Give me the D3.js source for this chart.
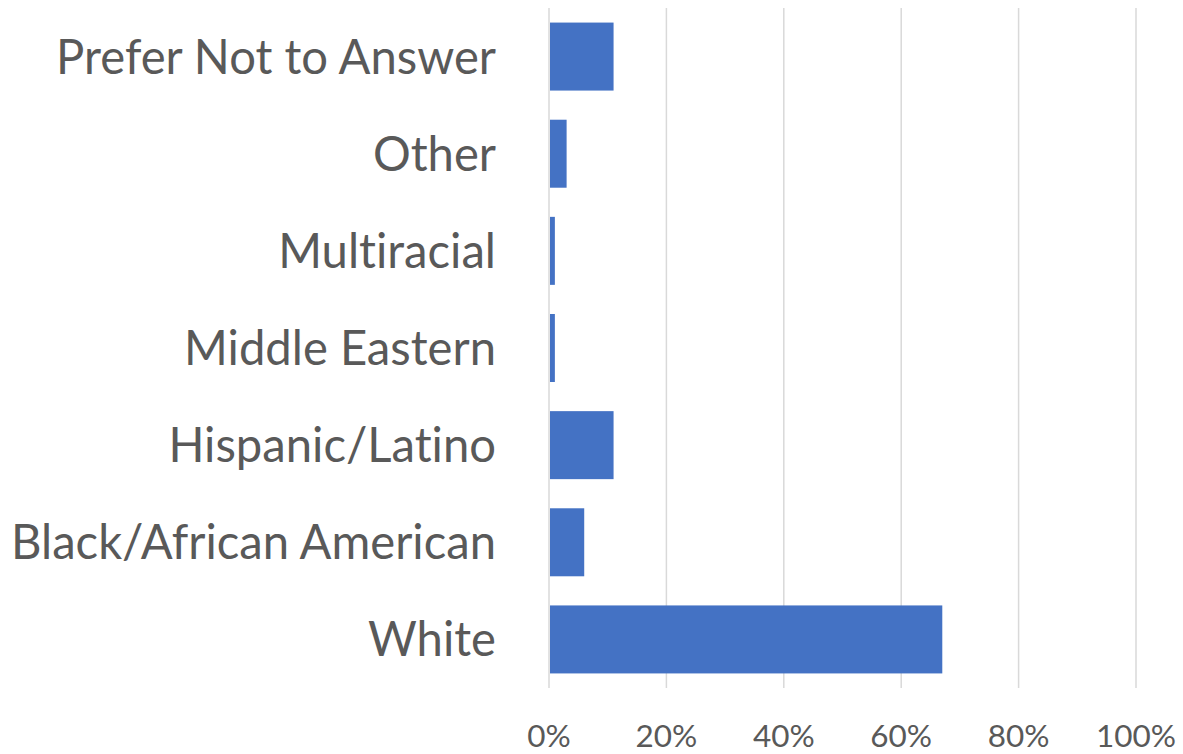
<!DOCTYPE html>
<html>
<head>
<meta charset="utf-8">
<script src="https://cdn.jsdelivr.net/npm/d3@7"></script>
<style>
  html, body { margin: 0; padding: 0; background: #fff; }
  svg { display: block; }
  text { font-family: Lato, "Open Sans", sans-serif; fill: #595959; font-variant-ligatures: none; font-feature-settings: "liga" 0, "clig" 0; }
</style>
</head>
<body>
<svg id="chart" width="1183" height="754"></svg>
<script>
// Respondents by race / ethnicity (share of total)
const categories = [
  "Prefer Not to Answer",
  "Other",
  "Multiracial",
  "Middle Eastern",
  "Hispanic/Latino",
  "Black/African American",
  "White"
];
const values = [0.11, 0.03, 0.01, 0.01, 0.11, 0.06, 0.67];
const tickValues = [0, 0.2, 0.4, 0.6, 0.8, 1.0];

const svg = d3.select("#chart");
const plot = { left: 549, right: 1136, top: 8, bottom: 688 };

const x = d3.scaleLinear().domain([0, 1]).range([plot.left, plot.right]);
const y = d3.scaleBand()
  .domain(categories)
  .range([plot.top, plot.bottom])
  .paddingInner(0.3)
  .paddingOuter(0.15);

// vertical gridlines
svg.append("g")
  .selectAll("line")
  .data(tickValues)
  .join("line")
  .attr("x1", d => x(d)).attr("x2", d => x(d))
  .attr("y1", plot.top).attr("y2", plot.bottom)
  .attr("stroke", "#d9d9d9")
  .attr("stroke-width", 1.5);

// bars
svg.append("g")
  .selectAll("rect")
  .data(categories)
  .join("rect")
  .attr("x", x(0) + 1)
  .attr("y", d => y(d))
  .attr("width", (d, i) => x(values[i]) - x(0) - 1)
  .attr("height", y.bandwidth())
  .attr("fill", "#4472C4");

// category labels (condensed horizontally)
const labelSize = 48;
const catG = svg.append("g");
const cats = catG.selectAll("g")
  .data(categories)
  .join("g");
const catText = cats.append("text")
  .attr("text-anchor", "end")
  .attr("font-size", labelSize)
  .text(d => d);
const refWidth = catText.filter(d => d === "Prefer Not to Answer").node().getComputedTextLength();
const catScale = 440 / refWidth;
cats.attr("transform", d =>
  `translate(496,${y(d) + y.bandwidth() / 2 + 17}) scale(${catScale},1)`);

// x-axis tick labels
const tickSize = 31;
const tickG = svg.append("g");
const ticks = tickG.selectAll("g")
  .data(tickValues)
  .join("g");
const tickText = ticks.append("text")
  .attr("text-anchor", "middle")
  .attr("font-size", tickSize)
  .text(d => d3.format(".0%")(d));
const tickRef = tickText.filter(d => d === 1).node().getComputedTextLength();
const tickScale = 80 / tickRef;
ticks.attr("transform", d => `translate(${x(d)},747) scale(${tickScale},1)`);
</script>
</body>
</html>
